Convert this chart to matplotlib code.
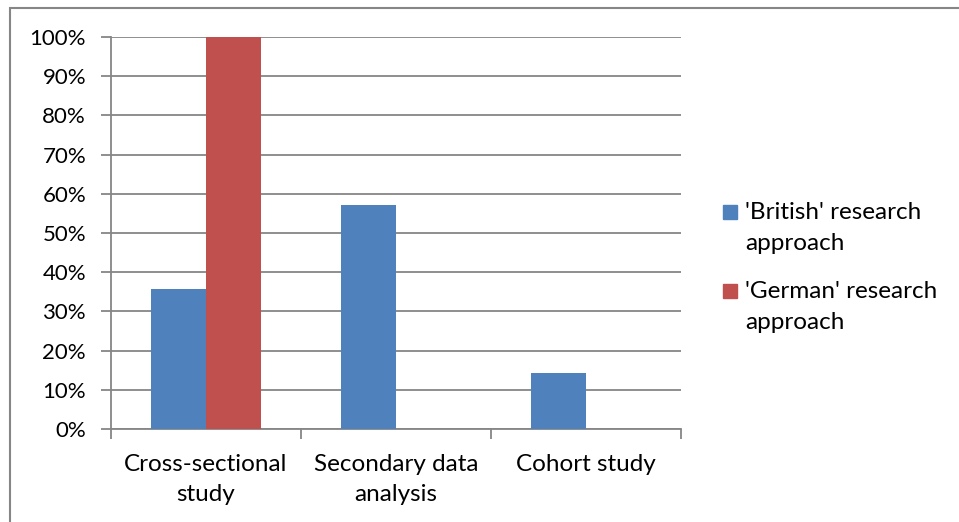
import numpy as np
import matplotlib.pyplot as plt
from matplotlib.patches import Rectangle

# study designs and share of studies per research approach
categories = ["Cross-sectional\nstudy", "Secondary data\nanalysis", "Cohort study"]
british = [35.7, 57.1, 14.3]
german = [100.0, 0.0, 0.0]
series_names = ["'British' research\napproach", "'German' research\napproach"]
y_ticks = list(range(0, 101, 10))
y_tick_labels = [f"{v}%" for v in y_ticks]

BLUE = "#4F81BD"
RED = "#C0504D"
GRID = "#868686"

plt.rcParams['font.family'] = ['Lato', 'DejaVu Sans']

W, H = 959, 522
fig = plt.figure(figsize=(W / 100, H / 100), dpi=100)
ax = fig.add_axes([111 / W, 1 - 429 / H, 570 / W, 392 / H])

x = np.arange(len(categories))
w = 0.29
ax.bar(x - w / 2, british, w, color=BLUE, zorder=3)
ax.bar(x + w / 2, german, w, color=RED, zorder=3)

ax.set_xlim(-0.5, len(categories) - 0.5)
ax.set_ylim(0, 100)
ax.set_yticks(y_ticks)
ax.set_yticklabels(y_tick_labels, fontsize=16)
ax.yaxis.grid(True, color=GRID, lw=1.3, zorder=0)
ax.tick_params(axis='y', length=7, width=1.3, color=GRID, pad=11)

# category labels centred, ticks on the category boundaries
ax.set_xticks(x)
ax.set_xticklabels(categories, fontsize=17.5, linespacing=1.55)
ax.tick_params(axis='x', length=0, pad=18)
ax.set_xticks(np.arange(-0.5, len(categories)), minor=True)
ax.tick_params(axis='x', which='minor', length=7, width=1.3, color=GRID)

for s in ['top', 'right']:
    ax.spines[s].set_visible(False)
for s in ['left', 'bottom']:
    ax.spines[s].set_color(GRID)
    ax.spines[s].set_linewidth(1.3)

# legend: square key beside the first line of each two-line label
for name, color, base in zip(series_names, [BLUE, RED], [219, 298]):
    fig.add_artist(Rectangle((723 / W, 1 - base / H), 14 / W, 14 / H,
                             transform=fig.transFigure, color=color))
    for i, line in enumerate(name.split("\n")):
        fig.text(745 / W, 1 - (base + 31 * i) / H, line, fontsize=17.5,
                 va='baseline', transform=fig.transFigure)

# outer chart frame (top and left edges visible)
fig.add_artist(Rectangle((9.5 / W, -0.05), 1.1, (1 - 7.5 / H) + 0.05,
                         transform=fig.transFigure, fill=False,
                         edgecolor=GRID, lw=1.5))

fig.savefig("out.png", dpi=100)
